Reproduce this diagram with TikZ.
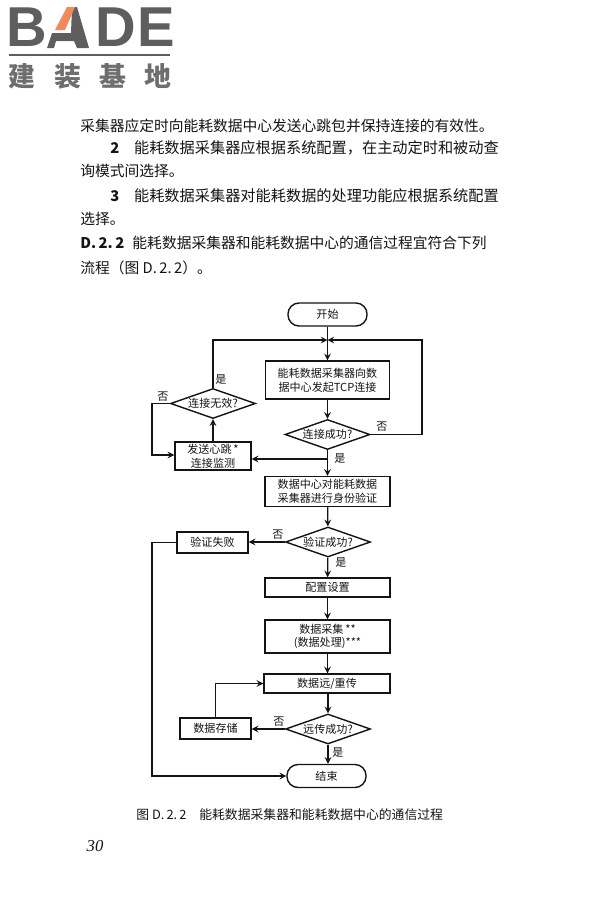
\documentclass[tikz,border=0pt]{standalone}
\usepackage{fontspec}
\setmainfont{Noto Sans CJK SC}
\newfontfamily\logofont{Liberation Sans}
\newfontfamily\pagenofont{Liberation Serif}
\usetikzlibrary{shapes.geometric}
\definecolor{inkdark}{HTML}{141414}
\definecolor{logogray}{HTML}{5E5E5E}
\definecolor{logolight}{HTML}{6E6E6E}
\definecolor{logoorange}{HTML}{F08A5D}
\newcommand{\widertext}{\fontsize{8.65}{10}\selectfont}
\tikzset{
	bodytext/.style={anchor=west, inner sep=0pt, text=inkdark, font=\fontsize{8.4}{10}\selectfont},
	chartlabel/.style={inner sep=0pt, text=inkdark, font=\fontsize{6.3}{7.8}\selectfont},
	procbox/.style={chartlabel, draw=inkdark, line width=0.8pt, align=center},
	endbox/.style={procbox, rounded corners=2.2mm, minimum width=1.58cm, minimum height=0.46cm},
	testbox/.style={chartlabel, draw=inkdark, line width=0.8pt, diamond, aspect=2.85, minimum width=1.7cm, minimum height=0.6cm},
	flowline/.style={draw=inkdark, line width=0.7pt},
	logoletter/.style={inner sep=0pt, text=logogray, font=\logofont\bfseries\fontsize{32}{33}\selectfont},
	logoword/.style={inner sep=0pt, text=logolight, font=\bfseries\fontsize{15.3}{16}\selectfont}
}
\begin{document}
\begin{tikzpicture}[x=0.02cm, y=-0.02cm, >=stealth]
	\useasboundingbox (0,0) rectangle (600,900);
	% logo
	\node[logoletter] (logob) at (26.5,27.5) {B};
	\node[logoletter] (logod) at (115.5,27.5) {D};
	\node[logoletter] (logoe) at (156,27.5) {E};
	\fill[logogray] (72,7) -- (77,7) -- (89,48) -- (77,48) -- (74,41) -- (56,41) -- (54,48) -- (47,48)
		-- (52,33) -- (71,33) -- cycle;
	\fill[logoorange] (67,7) -- (75,7) -- (65,30) -- (55,30) -- cycle;
	\draw[logogray, line width=1pt] (9,55) -- (170,55);
	\foreach \w/\x/\t in {wa/22/建,wb/68/装,wc/113/基,wd/158/地}
	{
		\node[logoword] (\w) at (\x,76) {\t};
	}
	% page text
	\foreach \n/\x/\y/\t in {
		la/80/126/采集器应定时向能耗数据中心发送心跳包并保持连接的有效性。,
		lb/110/148/\textbf{2}\hspace{1em}{\widertext 能耗数据采集器应根据系统配置，在主动定时和被动查},
		lc/80/171/询模式间选择。,
		ld/110/196/\textbf{3}\hspace{1em}{\widertext 能耗数据采集器对能耗数据的处理功能应根据系统配置},
		le/80/219/选择。,
		lf/80/243/\textbf{D.\,2.\,2}\hspace{0.55em}能耗数据采集器和能耗数据中心的通信过程宜符合下列,
		lg/80/268/流程（图 D.\,2.\,2）。}
	{
		\node[bodytext] (\n) at (\x,\y) {\t};
	}
	% chart nodes
	\node[endbox] (start) at (327.5,314.5) {开始};
	\coordinate (meet) at (327.5,340);
	\node[procbox, minimum width=2.48cm, minimum height=0.76cm] (send) at (327.5,380) {能耗数据采集器向数\\据中心发起TCP连接};
	\node[testbox] (okconn) at (327.5,434.5) {连接成功?};
	\coordinate (tap) at (327.5,459);
	\node[procbox, minimum width=1.52cm, minimum height=0.56cm] (beat) at (213,456) {发送心跳\,*\\连接监测};
	\node[testbox] (badconn) at (213,403.5) {连接无效?};
	\coordinate (railbeat) at (152,403.5);
	\coordinate (rightup) at (422,434.5);
	\node[procbox, minimum width=2.5cm, minimum height=0.6cm] (auth) at (327.5,491.5) {数据中心对能耗数据\\采集器进行身份验证};
	\node[testbox] (okauth) at (328,542) {验证成功?};
	\node[procbox, minimum width=1.42cm, minimum height=0.42cm] (fail) at (212.5,542.5) {验证失败};
	\coordinate (railfail) at (152,542.5);
	\node[procbox, minimum width=2.5cm, minimum height=0.38cm] (config) at (327.5,587.5) {配置设置};
	\node[procbox, minimum width=2.5cm, minimum height=0.66cm] (collect) at (327.5,636.5) {数据采集\,**\\(数据处理)***};
	\node[procbox, minimum width=2.52cm, minimum height=0.38cm] (upload) at (327,683.5) {数据远/重传};
	\node[testbox] (okupload) at (328,729) {远传成功?};
	\node[procbox, minimum width=1.42cm, minimum height=0.42cm] (store) at (215.5,728.5) {数据存储};
	\node[endbox] (finish) at (326.5,776) {结束};
	% yes and no marks
	\foreach \n/\x/\y/\t in {ya/221/380/是,na/163/397/否,nb/382/427/否,yb/340/459/是,
		nc/278/535/否,yc/341/563/是,nd/279/722/否,yd/338/753/是}
	{
		\node[chartlabel] (\n) at (\x,\y) {\t};
	}
	% connectors
	\draw[flowline, ->] (start) -- (send);
	\draw[flowline, ->] (send) -- (okconn);
	\draw[flowline, ->] (okconn) -- (auth);
	\draw[flowline, ->] (auth) -- (okauth);
	\draw[flowline, ->] (okauth) -- (config);
	\draw[flowline, ->] (config) -- (collect);
	\draw[flowline, ->] (collect.south) -- (upload.north -| collect.south);
	\draw[flowline, ->] (upload.south -| okupload.north) -- (okupload);
	\draw[flowline, ->] (okupload.south) -- (finish.north -| okupload.south);
	\draw[flowline, ->] (tap) -- (tap -| beat.east);
	\draw[flowline, ->] (beat) -- (badconn);
	\draw[flowline, ->] (badconn.north) |- (meet);
	\draw[flowline, ->] (okconn.east) -- (rightup) |- (meet);
	\draw[flowline, ->] (badconn.west) -- (railbeat) |- ([yshift=0.02cm]beat.west);
	\draw[flowline, ->] (okauth.west) -- (fail.east |- okauth.west);
	\draw[flowline, ->] (fail.west) -- (railfail) |- (finish.west);
	\draw[flowline, ->] (okupload.west) -- (store.east |- okupload.west);
	\draw[flowline, ->] (store.north) |- (upload.west);
	% caption and page number
	\node[inner sep=0pt, anchor=west, text=inkdark, font=\fontsize{7.3}{9}\selectfont] (caption) at (136,815) {图 D.\,2.\,2\hspace{1em}能耗数据采集器和能耗数据中心的通信过程};
	\node[inner sep=0pt, text=inkdark, font=\pagenofont\itshape\fontsize{9.5}{11}\selectfont] (pageno) at (95,846) {30};
\end{tikzpicture}
\end{document}
